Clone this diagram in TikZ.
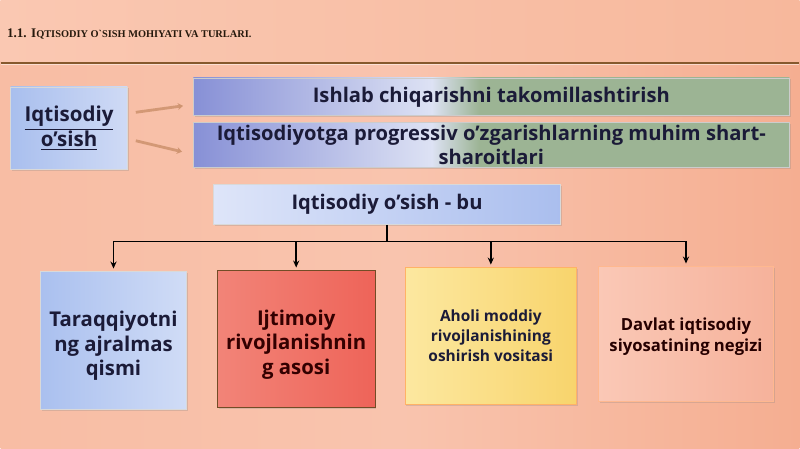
\documentclass[tikz,border=0pt]{standalone}
\usepackage{fontspec}
\newfontfamily\osfont{Open Sans}
\newfontfamily\titlefont{Liberation Serif}
\usetikzlibrary{shadows,arrows.meta}
\definecolor{txtdark}{HTML}{1B1B38}
\definecolor{linkbrown}{HTML}{CF9470}
\definecolor{wideblue}{HTML}{8790D6}
\definecolor{widelight}{HTML}{DDE2F4}
\definecolor{widegreen}{HTML}{9CB494}
\pgfdeclarehorizontalshading{widefade}{100bp}{color(0bp)=(wideblue); color(25bp)=(wideblue);
  color(45bp)=(widelight); color(49bp)=(widegreen); color(75bp)=(widegreen); color(100bp)=(widegreen)}
\begin{document}
\begin{tikzpicture}[x=0.02cm,y=-0.02cm]
\tikzstyle{every node}+=[inner sep=0pt]
\tikzstyle{boxbase}=[draw=#1, line width=0.4pt, align=center, text=txtdark,
  font=\osfont\bfseries, drop shadow={opacity=0.25,shadow xshift=0.8pt,shadow yshift=-0.8pt}]
\tikzstyle{widebox}=[boxbase=white!60!gray, shading=widefade, minimum width=11.94cm,
  font=\osfont\bfseries\fontsize{11.5}{13.5}\selectfont]
\tikzstyle{tree}=[line width=0.8pt, black]
\tikzstyle{link}=[line width=1.6pt, linkbrown, opacity=0.9, -{Stealth[length=3pt,width=4pt]}]
% background
\fill[left color={rgb,255:red,248;green,189;blue,164}, right color={rgb,255:red,245;green,174;blue,145},
  middle color={rgb,255:red,249;green,196;blue,174}] (0,0) rectangle (800,449);
\fill[left color={rgb,255:red,250;green,200;blue,178}, right color={rgb,255:red,247;green,184;blue,156}]
  (0,0) rectangle (800,62);
\draw[brown!70!black, line width=0.8pt] (0,63) -- (800,63);
\draw[white, opacity=0.5, line width=0.6pt] (0,65) -- (800,65);
\node[anchor=west, text=black!80!brown, font=\titlefont\bfseries\fontsize{7.5}{8}\selectfont] (title) at (6,34)
  {1.1. I{\fontsize{5.9}{7}\selectfont QTISODIY O`SISH MOHIYATI VA TURLARI.}};
% top part
\node[boxbase=white!70!gray, left color={rgb,255:red,169;green,191;blue,238}, right color={rgb,255:red,207;green,218;blue,245},
  minimum width=2.34cm, minimum height=1.66cm, font=\osfont\bfseries\fontsize{11.7}{14}\selectfont]
  (osish) at (68.5,128.5) {\underline{Iqtisodiy}\\\underline{o’sish}};
\node[widebox, minimum height=0.76cm] (ishlab) at (491.5,97) {Ishlab chiqarishni takomillashtirish};
\node[widebox, minimum height=0.9cm] (shart) at (491.5,145.5) {Iqtisodiyotga progressiv o’zgarishlarning muhim shart-\\sharoitlari};
\draw[link] ([shift={(8,-16)}]osish.east) -- ([shift={(-10,9)}]ishlab.west);
\draw[link] ([shift={(8,12.5)}]osish.east) -- ([shift={(-11,6.5)}]shart.west);
\node[boxbase=white!70!gray, left color={rgb,255:red,222;green,229;blue,249}, right color={rgb,255:red,170;green,190;blue,238},
  minimum width=6.96cm, minimum height=0.8cm, font=\osfont\bfseries\fontsize{11.5}{13}\selectfont]
  (bu) at (387,205) {Iqtisodiy o’sish - bu};
% bottom boxes
\node[boxbase=white!70!gray, left color={rgb,255:red,170;green,192;blue,239}, right color={rgb,255:red,208;green,220;blue,246},
  minimum width=2.92cm, minimum height=2.76cm, font=\osfont\bfseries\fontsize{11.6}{14}\selectfont]
  (qism) at (113,341) {\rule{0pt}{15pt}Taraqqiyotni\\ng ajralmas\\qismi};
\node[boxbase=brown!60!black, left color={rgb,255:red,242;green,132;blue,120}, right color={rgb,255:red,238;green,100;blue,89},
  text=black!80!red, minimum width=3.16cm, minimum height=2.74cm, font=\osfont\bfseries\fontsize{11.6}{14}\selectfont]
  (asos) at (296,339.5) {\rule{0pt}{15pt}Ijtimoiy\\rivojlanishnin\\g asosi};
\node[boxbase=orange!60!white, left color={rgb,255:red,252;green,232;blue,160}, right color={rgb,255:red,248;green,212;blue,108},
  minimum width=3.44cm, minimum height=2.74cm, font=\osfont\bfseries\fontsize{8.8}{11.3}\selectfont]
  (vosita) at (491,336.5) {Aholi moddiy\\rivojlanishining\\oshirish vositasi};
\node[boxbase=orange!40!pink!80!white, left color={rgb,255:red,250;green,200;blue,182}, right color={rgb,255:red,246;green,178;blue,155},
  text=black!85!red, minimum width=3.5cm, minimum height=2.7cm, font=\osfont\bfseries\fontsize{9.5}{11.8}\selectfont]
  (negiz) at (686.5,334.5) {\rule{0pt}{10pt}Davlat iqtisodiy\\siyosatining negizi};
% tree connectors
\coordinate (fork) at (387,242);
\draw[tree] (bu.south) -- (fork);
\draw[tree, -{Stealth[length=4pt,width=3.5pt]}, shorten >=1.5pt] (fork) -| (qism.north);
\draw[tree, -{Stealth[length=4pt,width=3.5pt]}, shorten >=1.5pt] (fork) -| (asos.north);
\draw[tree, -{Stealth[length=4pt,width=3.5pt]}, shorten >=1.5pt] (fork) -| (vosita.north);
\draw[tree, -{Stealth[length=4pt,width=3.5pt]}, shorten >=1.5pt] (fork) -| (negiz.north);
\end{tikzpicture}
\end{document}
